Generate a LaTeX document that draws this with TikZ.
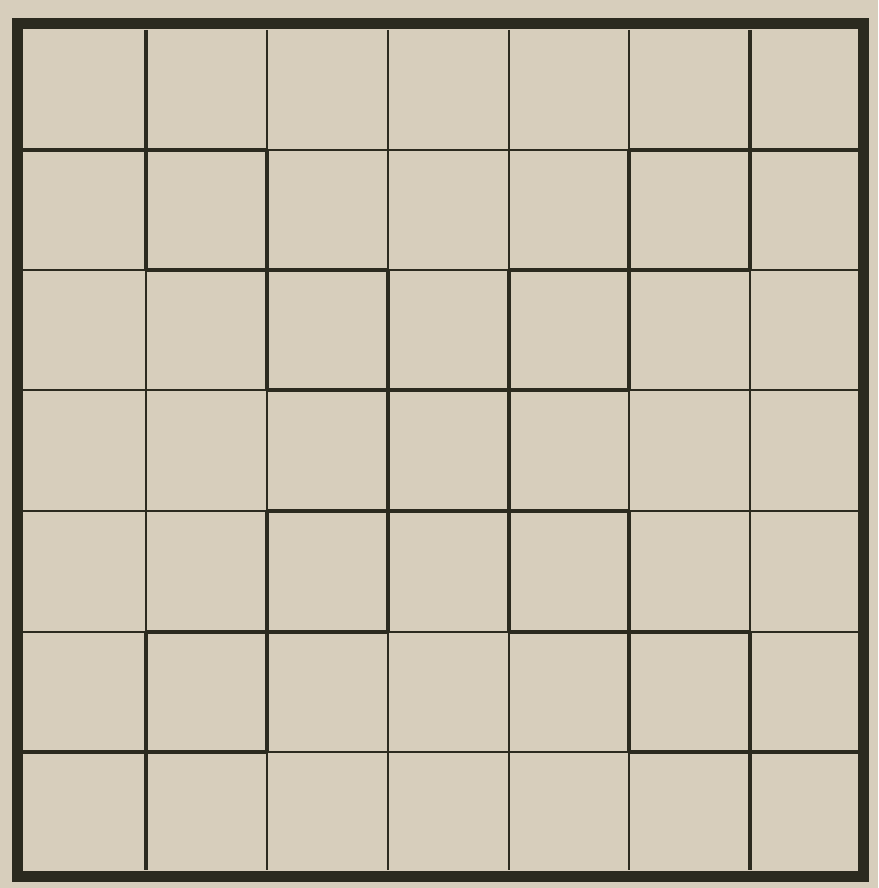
\documentclass[tikz,border=0pt]{standalone}
\definecolor{paper}{HTML}{D7CEBC}
\definecolor{ink}{HTML}{2B2A1F}
\begin{document}
\begin{tikzpicture}[x=1pt,y=-1pt,
  gridline/.style={draw=ink,line width=1.8pt},
  wall/.style={draw=ink,line width=4.5pt,line cap=butt},
  frameline/.style={draw=ink,line width=11pt}]
\fill[paper] (0,0) rectangle (878,888);
\useasboundingbox (0,0) rectangle (878,888);
% thin grid
\foreach \x in {146,267,388,509,629,750}
  \draw[gridline] (\x,30) -- (\x,870);
\foreach \y in {150,270,390,511,632,752}
  \draw[gridline] (22,\y) -- (858,\y);
% thick vertical walls
\draw[wall] (146,30) -- (146,270);
\draw[wall] (146,632) -- (146,870);
\draw[wall] (267,150) -- (267,390);
\draw[wall] (267,511) -- (267,752);
\draw[wall] (388,270) -- (388,632);
\draw[wall] (509,270) -- (509,632);
\draw[wall] (629,150) -- (629,390);
\draw[wall] (629,511) -- (629,752);
\draw[wall] (750,30) -- (750,270);
\draw[wall] (750,632) -- (750,870);
% thick horizontal walls
\draw[wall] (22,150) -- (267,150);
\draw[wall] (629,150) -- (858,150);
\draw[wall] (146,270) -- (388,270);
\draw[wall] (509,270) -- (750,270);
\draw[wall] (267,390) -- (629,390);
\draw[wall] (267,511) -- (629,511);
\draw[wall] (146,632) -- (388,632);
\draw[wall] (509,632) -- (750,632);
\draw[wall] (22,752) -- (267,752);
\draw[wall] (629,752) -- (858,752);
% outer frame
\draw[frameline] (17,24) rectangle (863,876);
\end{tikzpicture}
\end{document}
